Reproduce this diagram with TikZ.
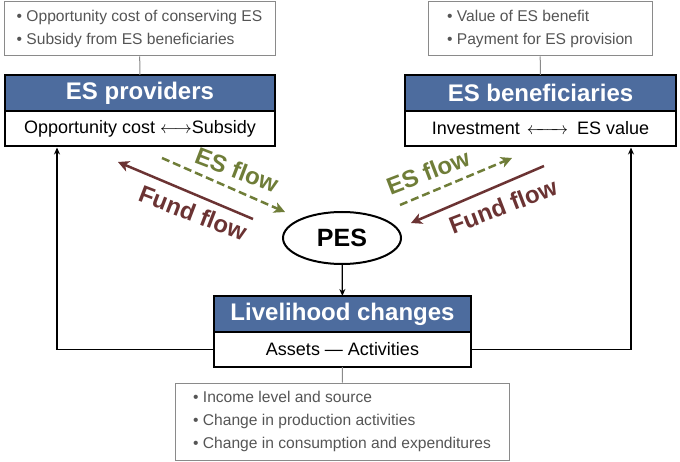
\documentclass[tikz,border=0pt]{standalone}
\usepackage{fontspec}
\usepackage{mathtools}
\setmainfont{Liberation Sans}
\usetikzlibrary{arrows.meta, positioning, shapes.geometric}
\definecolor{headblue}{HTML}{4D6C9E}
\definecolor{esgreen}{HTML}{6F7D38}
\definecolor{fundred}{HTML}{6B3333}
\definecolor{notegray}{HTML}{8A8A8A}
\definecolor{notetext}{HTML}{555555}
\tikzset{%
	head/.style={draw, line width=2.5pt, outer sep=0pt, inner sep=1pt, fill=headblue, text=white,%
		minimum height=36pt, font=\fontsize{24}{26}\selectfont\bfseries},
	body/.style={draw, line width=2.5pt, outer sep=0pt, inner sep=1pt, fill=white,%
		minimum height=35pt, font=\fontsize{18}{20}\selectfont},
	note/.style={draw=notegray, line width=1pt, text=notetext, align=left,%
		inner sep=0pt, font=\fontsize{15.6}{23}\selectfont},
	link/.style={draw=notegray, line width=1pt},
	fb/.style={-{Stealth[length=7pt,width=6pt]}, line width=1.3pt},
	flow/.style={line width=2.5pt, -{Stealth[length=11pt,width=11pt,inset=3pt]}},
	esflow/.style={flow, esgreen, dash pattern=on 8pt off 4pt},
	fundflow/.style={flow, fundred},
	flowlbl/.style={inner sep=0pt, font=\fontsize{24}{26}\selectfont\bfseries},
	pes/.style={draw, ellipse, line width=2pt, minimum width=118pt, minimum height=52pt,%
		inner sep=0pt, font=\fontsize{25}{26}\selectfont\bfseries}
}

\begin{document}
\begin{tikzpicture}[x=1pt, y=-1pt]
	\useasboundingbox (0,0) rectangle (680,462);

	\node[head, minimum width=270pt] (provHead) at (140,93) {ES providers};
	\node[body, minimum width=270pt, below=0pt of provHead] (provBody) {Opportunity cost $\longleftrightarrow$Subsidy};
	\node[head, minimum width=271pt] (benHead) at (540.5,93) {ES beneficiaries};
	\node[body, minimum width=271pt, below=0pt of benHead] (benBody)
		{Investment\hspace{7pt}$\xleftrightarrow{\hspace{32pt}}$\hspace{9pt}ES value};
	\node[head, minimum width=257pt] (livHead) at (342.5,314) {Livelihood changes};
	\node[body, minimum width=257pt, below=0pt of livHead] (livBody) {Assets --- Activities};

	\node[note, minimum width=271pt, minimum height=54pt] (noteL) at (139.5,29)
		{\textbullet\ Opportunity cost of conserving ES\\ \textbullet\ Subsidy from ES beneficiaries};
	\node[note, minimum width=224pt, minimum height=54pt] (noteR) at (540,29)
		{\textbullet\ Value of ES benefit\\ \textbullet\ Payment for ES provision};
	\node[note, minimum width=334pt, minimum height=77pt] (noteB) at (342,421.5)
		{\textbullet\ Income level and source\\ \textbullet\ Change in production activities\\%
		 \textbullet\ Change in consumption and expenditures};

	\node[pes] (pes) at (342,238) {PES};

	\coordinate (fbL) at (57,147.5);
	\coordinate (fbR) at (631,147.5);
	\coordinate (esL1) at (162,158);
	\coordinate (esL2) at (285,212);
	\coordinate (fundL1) at (253,219);
	\coordinate (fundL2) at (118,162);
	\coordinate (esR1) at (400,205);
	\coordinate (esR2) at (512,158);
	\coordinate (fundR1) at (544,166);
	\coordinate (fundR2) at (411,223);

	\draw[link] (noteL) -- (provHead);
	\draw[link] (noteR) -- (benHead);
	\draw[link] (noteB) -- (livBody);

	\draw[fb] (pes) -- (livHead);
	\draw[fb] (livBody.west) -| (fbL);
	\draw[fb] (livBody.east) -| (fbR);

	\draw[esflow] (esL1) -- (esL2);
	\draw[fundflow] (fundL1) -- (fundL2);
	\draw[esflow] (esR1) -- (esR2);
	\draw[fundflow] (fundR1) -- (fundR2);

	\node[flowlbl, text=esgreen, rotate=-21] (esLblL) at (237,170) {ES flow};
	\node[flowlbl, text=fundred, rotate=-21] (fundLblL) at (193,213) {Fund flow};
	\node[flowlbl, text=esgreen, rotate=21] (esLblR) at (428,172) {ES flow};
	\node[flowlbl, text=fundred, rotate=21] (fundLblR) at (503,206) {Fund flow};
\end{tikzpicture}
\end{document}
